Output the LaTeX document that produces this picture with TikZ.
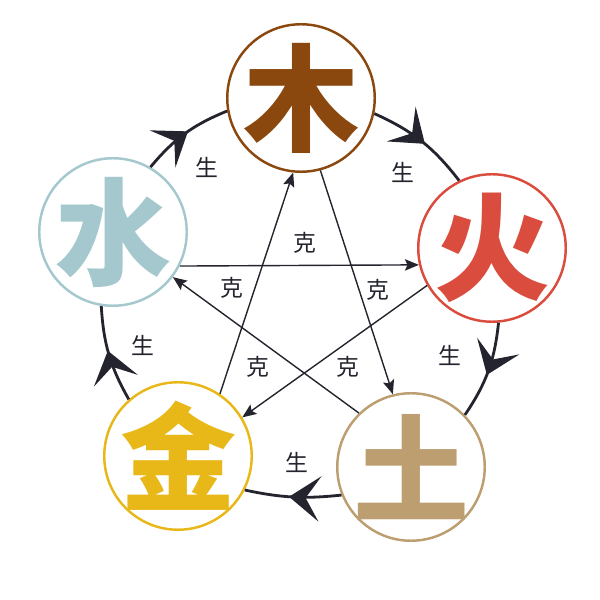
\documentclass[tikz,border=0pt]{standalone}
\usepackage{fontspec}
\newfontfamily\cjk{Noto Sans CJK SC}
\usetikzlibrary{arrows.meta,decorations.markings}
\definecolor{mucol}{RGB}{139,72,14}
\definecolor{huocol}{RGB}{218,76,62}
\definecolor{tucol}{RGB}{188,158,112}
\definecolor{jincol}{RGB}{232,184,24}
\definecolor{shuicol}{RGB}{164,200,206}
\definecolor{inkcol}{RGB}{36,36,46}
\tikzset{
	elem/.style={circle, draw=#1, line width=1.4pt, minimum size=2.95cm, inner sep=0pt, fill=white},
	glyph/.style={font=\cjk\bfseries\fontsize{66}{66}\selectfont, text=#1},
	ring/.style={line width=1.6pt, draw=inkcol, postaction={decorate},
		decoration={markings, mark=at position 0.54 with {\arrow[scale=1.35]{Stealth[length=13pt,width=19pt,inset=6pt]}}}},
	ke/.style={line width=0.8pt, draw=inkcol, -{Stealth[length=8pt,width=6.5pt,inset=1.5pt]}},
	lbl/.style={font=\cjk\fontsize{13}{13}\selectfont, text=inkcol}
}
\begin{document}
\begin{tikzpicture}
			\useasboundingbox (0,0) rectangle (12,12);
			% De fem elementer
			\node[elem=mucol, label={[glyph=mucol]center:木}] (mu) at (6.02,10.04) {};
			\node[elem=huocol, label={[glyph=huocol]center:火}] (huo) at (9.84,7.04) {};
			\node[elem=tucol, label={[glyph=tucol]center:土}] (tu) at (8.22,2.66) {};
			\node[elem=jincol, label={[glyph=jincol]center:金}] (jin) at (3.56,2.88) {};
			\node[elem=shuicol, label={[glyph=shuicol]center:水}] (shui) at (2.26,7.36) {};
			
			% Ringen (sheng)
			\draw[ring] (mu.-12.9) to[bend left=14] (huo.116.7);
			\draw[ring] (huo.-85.1) to[bend left=14] (tu.44.5);
			\draw[ring] (tu.202.5) to[bend left=9] (jin.-27.9);
			\draw[ring] (jin.131.4) to[bend left=13] (shui.-99);
			\draw[ring] (shui.60.7) to[bend left=14] (mu.190.3);
			\node[lbl] (s1) at (8.06,8.56) {生};
			\node[lbl] (s2) at (9.0,4.9) {生};
			\node[lbl] (s3) at (5.94,2.76) {生};
			\node[lbl] (s4) at (2.86,5.1) {生};
			\node[lbl] (s5) at (4.14,8.66) {生};
			
			% Stjernen (ke)
			\draw[ke] (mu.-75) -- (tu.104);
			\draw[ke] (tu.134) -- (shui.-37);
			\draw[ke] (shui.-27) -- (huo.193);
			\draw[ke] (huo.210) -- (jin.31);
			\draw[ke] (jin.56) -- (mu.-96);
			\node[lbl] (k1) at (6.1,7.14) {克};
			\node[lbl] (k2) at (4.64,6.24) {克};
			\node[lbl] (k3) at (7.56,6.2) {克};
			\node[lbl] (k4) at (5.16,4.66) {克};
			\node[lbl] (k5) at (6.96,4.66) {克};
		\end{tikzpicture}
\end{document}
